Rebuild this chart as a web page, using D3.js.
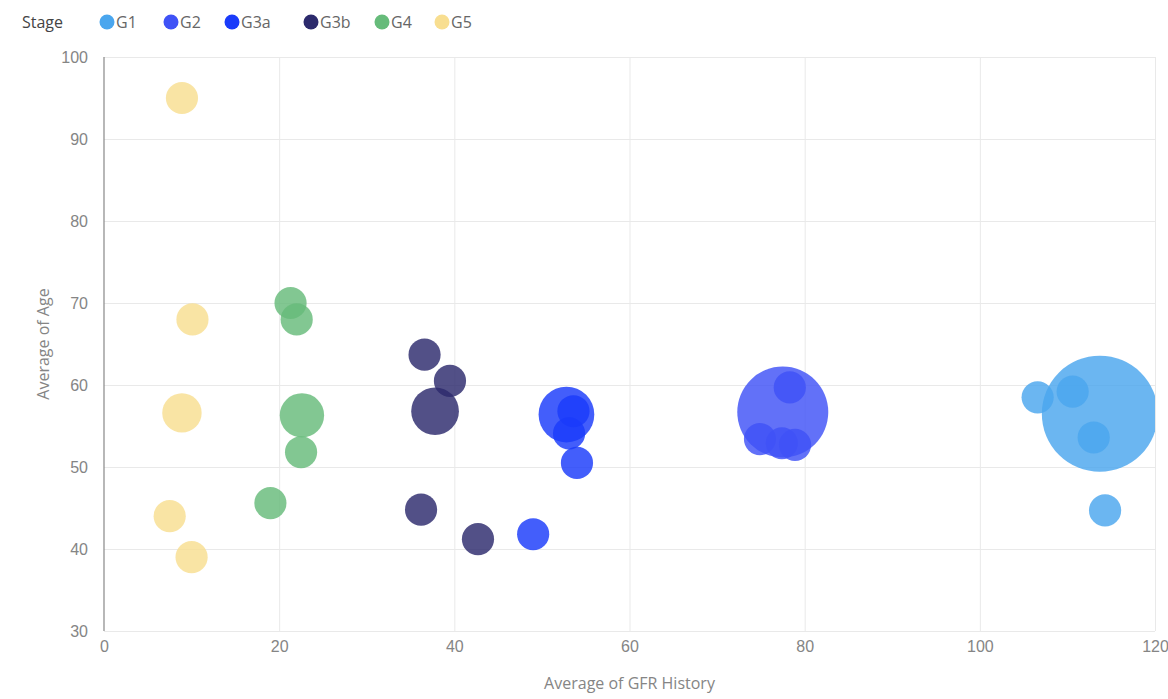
<!DOCTYPE html>
<html>
<head>
<meta charset="utf-8">
<script src="https://cdn.jsdelivr.net/npm/d3@7"></script>
<style>
  body { margin: 0; background: #fff; font-family: "Open Sans", "Noto Sans", sans-serif; }
  .grid line { stroke: #e9e9e9; }
  .tick text { fill: #858585; font-size: 16px; }
</style>
</head>
<body>
<svg id="chart"></svg>
<script>
// stages and their colours
const stages = ["G1", "G2", "G3a", "G3b", "G4", "G5"];
const stageColors = ["#4aa6ee", "#3f52f6", "#1a3bfa", "#2c2a6c", "#66bb7a", "#f8de90"];

// one entry per bubble
const pointStage = [
  "G5", "G5", "G5", "G5", "G5",
  "G4", "G4", "G4", "G4", "G4",
  "G3b", "G3b", "G3b", "G3b", "G3b",
  "G3a", "G3a", "G3a", "G3a", "G3a",
  "G2", "G2", "G2", "G2", "G2",
  "G1", "G1", "G1", "G1", "G1"
];
const avgGfr = [
  8.9, 10.1, 8.9, 7.5, 10.0,
  21.3, 22.0, 22.6, 22.5, 19.0,
  36.6, 39.5, 37.8, 36.2, 42.7,
  52.8, 53.6, 53.1, 54.0, 49.0,
  77.5, 78.3, 74.9, 77.4, 78.9,
  113.7, 106.6, 110.6, 113.0, 114.3
];
const avgAge = [
  95.0, 68.0, 56.6, 44.0, 39.0,
  70.0, 68.0, 56.3, 51.8, 45.6,
  63.7, 60.5, 56.8, 44.8, 41.2,
  56.4, 56.8, 54.1, 50.5, 41.8,
  56.7, 59.7, 53.4, 52.9, 52.7,
  56.5, 58.5, 59.2, 53.6, 44.7
];
const patientCount = [
  1, 1, 1.5, 1, 1,
  1, 1, 1.9, 1, 1,
  1, 1, 2.2, 1, 1,
  3, 1, 1, 1, 1,
  8, 1, 1, 1, 1,
  13, 1, 1, 1, 1
];

const xTicks = [0, 20, 40, 60, 80, 100, 120];
const yTicks = [30, 40, 50, 60, 70, 80, 90, 100];

const width = 1168, height = 699;
const margin = {top: 57, right: 13, bottom: 68, left: 104};
const innerW = width - margin.left - margin.right;
const innerH = height - margin.top - margin.bottom;

const svg = d3.select("#chart").attr("width", width).attr("height", height);

const x = d3.scaleLinear().domain([0, 120]).range([0, innerW]);
const y = d3.scaleLinear().domain([30, 100]).range([innerH, 0]);
const r = d3.scaleSqrt().domain([0, 13]).range([0, 58]);
const color = d3.scaleOrdinal().domain(stages).range(stageColors);

const data = pointStage.map((s, i) => ({stage: s, gfr: avgGfr[i], age: avgAge[i], n: patientCount[i]}));

const g = svg.append("g").attr("transform", `translate(${margin.left},${margin.top})`);

// bubbles get cut at the right edge of the plot
svg.append("defs").append("clipPath").attr("id", "plot-clip")
  .append("rect").attr("x", -margin.left).attr("y", -margin.top)
  .attr("width", innerW + margin.left).attr("height", innerH + margin.top + margin.bottom);

// gridlines
g.append("g").attr("class", "grid")
  .call(d3.axisLeft(y).tickValues(yTicks).tickSize(-innerW).tickFormat(""))
  .call(a => a.select(".domain").remove());
g.append("g").attr("class", "grid")
  .attr("transform", `translate(0,${innerH})`)
  .call(d3.axisBottom(x).tickValues(xTicks.slice(1)).tickSize(-innerH).tickFormat(""))
  .call(a => a.select(".domain").remove());

// y axis line
g.append("line").attr("x1", 0).attr("x2", 0).attr("y1", 0).attr("y2", innerH)
  .attr("stroke", "#888").attr("stroke-width", 1.2);

// tick labels
g.append("g")
  .call(d3.axisLeft(y).tickValues(yTicks).tickSize(0).tickPadding(16))
  .call(a => a.select(".domain").remove());
g.append("g")
  .attr("transform", `translate(0,${innerH})`)
  .call(d3.axisBottom(x).tickValues(xTicks).tickSize(0).tickPadding(10))
  .call(a => a.select(".domain").remove());

// bubbles
g.append("g").attr("clip-path", "url(#plot-clip)")
  .selectAll("circle")
  .data(data)
  .join("circle")
  .attr("cx", d => x(d.gfr))
  .attr("cy", d => y(d.age))
  .attr("r", d => r(d.n))
  .attr("fill", d => color(d.stage))
  .attr("fill-opacity", 0.82);

// axis titles
svg.append("text")
  .attr("x", margin.left + innerW / 2).attr("y", 689)
  .attr("text-anchor", "middle").attr("fill", "#858585").style("font-size", "16px")
  .text("Average of GFR History");
svg.append("text")
  .attr("transform", `translate(49,${margin.top + innerH / 2}) rotate(-90)`)
  .attr("text-anchor", "middle").attr("fill", "#858585").style("font-size", "16px")
  .text("Average of Age");

// legend
const legend = svg.append("g").attr("transform", "translate(22,22)");
legend.append("text").attr("x", 0).attr("y", 0).attr("dy", "0.35em")
  .attr("fill", "#444").style("font-size", "16px").text("Stage");
const legendX = [85, 149, 210, 289, 360, 420];
const item = legend.selectAll(".item")
  .data(stages)
  .join("g")
  .attr("class", "item")
  .attr("transform", (d, i) => `translate(${legendX[i]},0)`);
item.append("circle").attr("r", 7.5).attr("fill", d => color(d));
item.append("text").attr("x", 9).attr("dy", "0.35em")
  .attr("fill", "#666").style("font-size", "16px").text(d => d);
</script>
</body>
</html>
